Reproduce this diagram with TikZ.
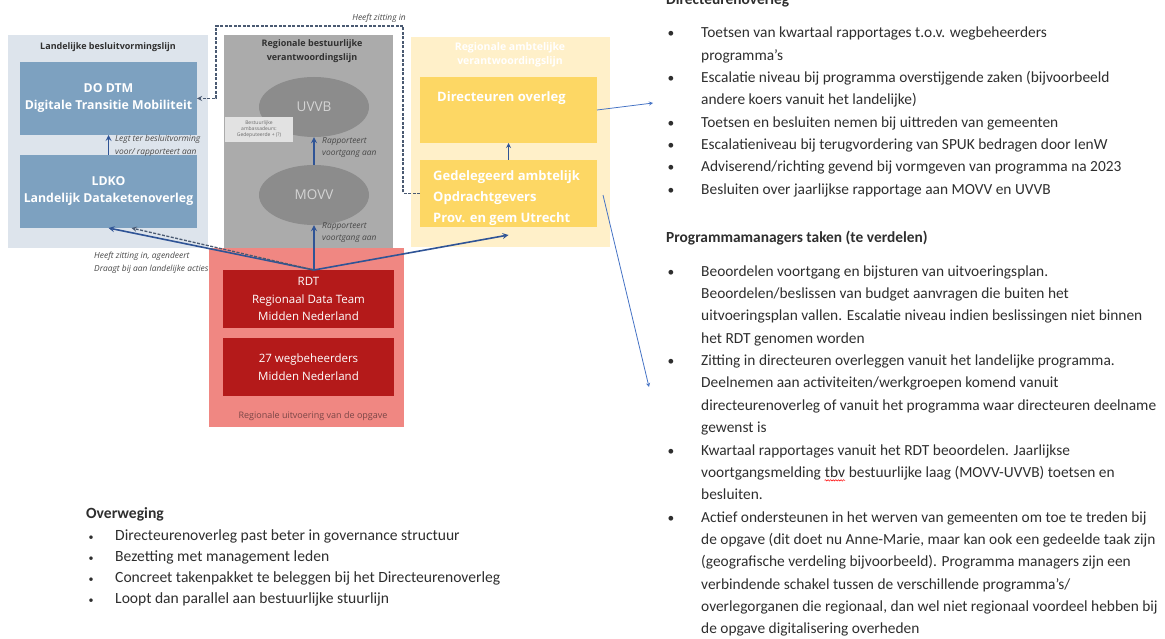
\documentclass[tikz,border=0pt]{standalone}
\usepackage{fontspec}
\setmainfont{Carlito}
\newfontfamily\diagfont{Open Sans}
\usetikzlibrary{positioning,shapes.geometric,decorations.pathmorphing}

\definecolor{landbg}{HTML}{DDE4EC}
\definecolor{landbox}{HTML}{7DA1C0}
\definecolor{bestbg}{HTML}{ABABAB}
\definecolor{bestell}{HTML}{8C8C8C}
\definecolor{ovaaltekst}{HTML}{D4D4D4}
\definecolor{kleinbg}{HTML}{E2E2E2}
\definecolor{kleintekst}{HTML}{6A6A6A}
\definecolor{ambbg}{HTML}{FFF0C9}
\definecolor{ambbox}{HTML}{FDD764}
\definecolor{uitbg}{HTML}{F08782}
\definecolor{uitbox}{HTML}{B41A1A}
\definecolor{uittekst}{HTML}{7A4646}
\definecolor{pijlblauw}{HTML}{2F5496}
\definecolor{streep}{HTML}{4A5A72}
\definecolor{dunblauw}{HTML}{4472C4}
\definecolor{titeltekst}{HTML}{303030}
\definecolor{labeltekst}{HTML}{484848}
\definecolor{tekst}{HTML}{2E2E2E}

\begin{document}
\begin{tikzpicture}[x=1pt,y=-1pt,>=stealth,
		paneel/.style={anchor=north west, inner sep=0pt, outer sep=0pt},
		blok/.style={paneel, align=center, text=white, font=\diagfont\bfseries\fontsize{12.3}{17}\selectfont},
		rood/.style={paneel, fill=uitbox, minimum width=171pt, minimum height=58pt, align=center, text=white, font=\diagfont\fontsize{11.5}{17.5}\selectfont},
		ovaal/.style={ellipse, fill=bestell, minimum width=110pt, minimum height=60pt, inner sep=0pt, text=ovaaltekst, font=\diagfont\fontsize{13.5}{15}\selectfont},
		klein/.style={fill=kleinbg, minimum width=68pt, minimum height=25pt, inner sep=1pt, align=center, text=kleintekst, font=\diagfont\fontsize{5}{6}\selectfont},
		titel/.style={align=center, inner sep=0pt, text=titeltekst, font=\diagfont\bfseries\fontsize{9}{14}\selectfont},
		notitie/.style={anchor=north west, align=left, inner sep=0pt, text=labeltekst, font=\diagfont\itshape\fontsize{8.4}{12.5}\selectfont},
		geel/.style={anchor=west, align=left, inner sep=0pt, text=white, font=\diagfont\bfseries\fontsize{13}{21}\selectfont},
		pijl/.style={->, draw=pijlblauw, line width=1.6pt},
		streeplijn/.style={->, draw=streep, line width=1.3pt, dash pattern=on 3pt off 1.5pt},
		dunnepijl/.style={->, draw=dunblauw, line width=0.8pt},
		kop/.style={anchor=base west, inner sep=0pt, text=tekst, font=\bfseries\fontsize{15.4}{16}\selectfont},
		regel/.style={anchor=base west, inner sep=0pt, text=tekst, font=\fontsize{15.4}{16}\selectfont},
		bol/.style={anchor=base, inner sep=0pt, text=tekst, font=\fontsize{13.5}{16}\selectfont}
	]
	\useasboundingbox (0,0) rectangle (1165,639);
	
	% Landelijke besluitvormingslijn
	\node[paneel, fill=landbg, minimum width=200pt, minimum height=213pt] (land) at (8,35) {};
	\node[titel] (landtitel) at (108,47) {Landelijke besluitvormingslijn};
	\node[blok, fill=landbox, minimum width=177pt, minimum height=73pt] (dodtm) at (20,62) {DO DTM\\Digitale Transitie Mobiliteit};
	\node[blok, fill=landbox, minimum width=177pt, minimum height=73pt] (ldko) at (20,155) {LDKO\\Landelijk Dataketenoverleg};
	\draw[pijl] (ldko.north) -- (dodtm.south);
	\node[notitie] (legt) at (115,135) {Legt ter besluitvorming\\voor/ rapporteert aan};
	
	% Regionale bestuurlijke verantwoordingslijn
	\node[paneel, fill=bestbg, minimum width=169pt, minimum height=215pt] (best) at (224,35) {};
	\node[titel] (besttitel) at (312,51) {Regionale bestuurlijke\\verantwoordingslijn};
	\node[ovaal] (uvvb) at (314,107) {UVVB};
	\node[ovaal] (movv) at (314,195) {MOVV};
	\node[klein] (ambass) at (259,129.5) {Bestuurlijke\\ambassadeurs:\\Gedeputeerde + (?)};
	\draw[pijl] (movv.north) -- (uvvb.south);
	\node[notitie] (rapp1) at (322,137) {Rapporteert\\voortgang aan};
	\node[notitie] (rapp2) at (322,222) {Rapporteert\\voortgang aan};
	
	% Regionale ambtelijke verantwoordingslijn
	\node[paneel, fill=ambbg, minimum width=199pt, minimum height=210pt] (amb) at (411,37) {};
	\node[titel, text=white, font=\diagfont\bfseries\fontsize{10.5}{14}\selectfont] (ambtitel) at (510,55) {Regionale ambtelijke\\verantwoordingslijn};
	\node[paneel, fill=ambbox, minimum width=177pt, minimum height=66pt] (dirov) at (420,77) {};
	\node[geel] (dirtekst) at (437,98) {Directeuren overleg};
	\node[paneel, fill=ambbox, minimum width=177pt, minimum height=67pt] (ged) at (420,160) {};
	\node[geel] (gedtekst) at (433,198) {Gedelegeerd ambtelijk\\Opdrachtgevers\\Prov. en gem Utrecht};
	\draw[pijl, line width=1.2pt] (ged.north) -- (dirov.south);
	
	% Regionale uitvoering
	\node[paneel, fill=uitbg, minimum width=195pt, minimum height=179pt] (uit) at (209,248) {};
	\node[rood] (rdt) at (223,270) {RDT\\Regionaal Data Team\\Midden Nederland};
	\node[rood] (wegb) at (223,338) {27 wegbeheerders\\Midden Nederland};
	\node[inner sep=0pt, text=uittekst, font=\diagfont\fontsize{9}{11}\selectfont] (uitlabel) at (313,416) {Regionale uitvoering van de opgave};
	
	\coordinate (rdtboven) at (314,270);
	\draw[pijl] (rdtboven) -- (movv.south);
	\draw[pijl] (rdtboven) -- (ldko.south);
	\draw[streeplijn] (rdtboven) -- ([xshift=23pt]ldko.south);
	\draw[pijl] (rdtboven) -- ([yshift=-8pt]ged.south);
	\node[notitie] (heeft) at (94,252) {Heeft zitting in, agendeert\\Draagt bij aan landelijke acties};
	
	\draw[streeplijn] (ged.west) -| (403,26) -| ([xshift=19pt]dodtm.east) -- (dodtm.east);
	\node[notitie, anchor=south east] (zitting) at (406,23) {Heeft zitting in};
	
	\coordinate (naardir) at (653,103);
	\coordinate (vanged) at (603,195);
	\coordinate (naarpm) at (649,387);
	\draw[dunnepijl] (dirov.east) -- (naardir);
	\draw[dunnepijl] (vanged) -- (naarpm);
	
	% Directeurenoverleg
	\node[kop] (kopdir) at (666,5) {Directeurenoverleg};
	\foreach \k/\txt in {0/{Toetsen van kwartaal rapportages t.o.v. wegbeheerders},
		1/{programma’s},
		2/{Escalatie niveau bij programma overstijgende zaken (bijvoorbeeld},
		3/{andere koers vanuit het landelijke)},
		4/{Toetsen en besluiten nemen bij uittreden van gemeenten},
		5/{Escalatieniveau bij terugvordering van SPUK bedragen door IenW},
		6/{Adviserend/richting gevend bij vormgeven van programma na 2023},
		7/{Besluiten over jaarlijkse rapportage aan MOVV en UVVB}}
	\node[regel] (d\k) at (701,{37.8+22.35*\k}) {\txt};
	\foreach \k in {0,2,4,5,6,7}
	\node[bol] (bd\k) at (671,{37.8+22.35*\k}) {•};
	
	% Programmamanagers
	\node[kop] (koppm) at (666,242.8) {Programmamanagers taken (te verdelen)};
	\foreach \k/\txt in {0/{Beoordelen voortgang en bijsturen van uitvoeringsplan.},
		1/{Beoordelen/beslissen van budget aanvragen die buiten het},
		2/{uitvoeringsplan vallen. Escalatie niveau indien beslissingen niet binnen},
		3/{het RDT genomen worden},
		4/{Zitting in directeuren overleggen vanuit het landelijke programma.},
		5/{Deelnemen aan activiteiten/werkgroepen komend vanuit},
		6/{directeurenoverleg of vanuit het programma waar directeuren deelname},
		7/{gewenst is},
		8/{Kwartaal rapportages vanuit het RDT beoordelen. Jaarlijkse},
		9/{voortgangsmelding},
		10/{besluiten.},
		11/{Actief ondersteunen in het werven van gemeenten om toe te treden bij},
		12/{de opgave (dit doet nu Anne-Marie, maar kan ook een gedeelde taak zijn},
		13/{(geografische verdeling bijvoorbeeld). Programma managers zijn een},
		14/{verbindende schakel tussen de verschillende programma’s/},
		15/{overlegorganen die regionaal, dan wel niet regionaal voordeel hebben bij},
		16/{de opgave digitalisering overheden}}
	\node[regel] (p\k) at (701,{276.2+22.35*\k}) {\txt};
	\node[regel] (tbv) at ([xshift=3.5pt]p9.base east) {tbv};
	\node[regel] (p9b) at ([xshift=3.5pt]tbv.base east) {bestuurlijke laag (MOVV-UVVB) toetsen en};
	\draw[red, line width=0.5pt, decorate, decoration={snake, amplitude=0.7pt, segment length=2.6pt}] ([yshift=-3pt]tbv.base west) -- ([yshift=-3pt]tbv.base east);
	\foreach \k in {0,4,8,11}
	\node[bol] (bp\k) at (671,{276.2+22.35*\k}) {•};
	
	% Overweging
	\node[kop, font=\bfseries\fontsize{15.6}{16}\selectfont] (kopow) at (86,518.5) {Overweging};
	\foreach \k/\txt in {0/{Directeurenoverleg past beter in governance structuur},
		1/{Bezetting met management leden},
		2/{Concreet takenpakket te beleggen bij het Directeurenoverleg},
		3/{Loopt dan parallel aan bestuurlijke stuurlijn}}
	\node[regel, font=\fontsize{15.6}{16}\selectfont] (o\k) at (115,{540+21*\k}) {\txt};
	\foreach \k in {0,...,3}
	\node[bol, font=\fontsize{10}{12}\selectfont] (bo\k) at (91,{540+21*\k}) {•};
\end{tikzpicture}
\end{document}
